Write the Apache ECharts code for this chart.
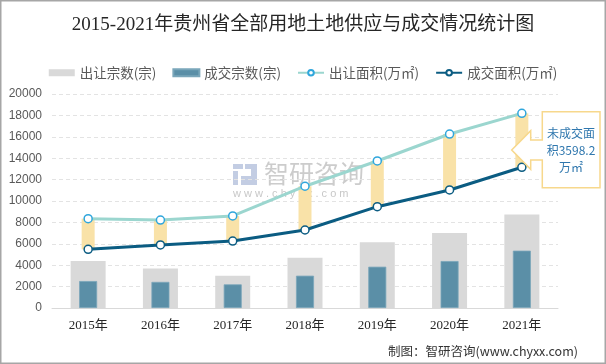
<!DOCTYPE html>
<html>
<head>
<meta charset="utf-8">
<script src="https://cdn.jsdelivr.net/npm/echarts@6/dist/echarts.min.js"></script>
<style>
html,body{margin:0;padding:0;background:#fff;}
#c{width:606px;height:364px;}
</style>
</head>
<body>
<div id="c"></div>
<script>
const years = ['2015年','2016年','2017年','2018年','2019年','2020年','2021年'];
const supplyCount = [4400, 3680, 3020, 4700, 6150, 7010, 8750];     // 出让宗数(宗)
const dealCount   = [2520, 2440, 2210, 3020, 3860, 4390, 5360];     // 成交宗数(宗)
const supplyArea  = [8350, 8220, 8600, 11380, 13740, 16260, 18190]; // 出让面积(万㎡)
const dealArea    = [5480, 5890, 6260, 7290, 9470, 11030, 13150];   // 成交面积(万㎡)
const yTicks = {min: 0, max: 20000, interval: 2000};
const calloutText = '未成交面\n积3598.2\n万㎡';

const bandGap = supplyArea.map((v, i) => v - dealArea[i]);

const chart = echarts.init(document.getElementById('c'));
const catAxis = (show) => ({
  type: 'category', data: years, gridIndex: 0, show: show,
  axisLine: {show: show, lineStyle: {color: '#d9d9d9', width: 1}},
  axisTick: {show: false},
  axisLabel: {show: show, color: '#262626', fontSize: 13, margin: 11,
    fontFamily: "'Liberation Serif','Noto Sans CJK SC',serif"}
});
chart.setOption({
  animation: false,
  backgroundColor: '#fff',
  title: {
    text: '2015-2021年贵州省全部用地土地供应与成交情况统计图',
    left: 'center', top: 11,
    textStyle: {fontSize: 19, fontWeight: 'normal', color: '#262626',
      fontFamily: "'Liberation Serif','Noto Sans CJK SC',serif"}
  },
  legend: {
    top: 61, left: 'center', itemGap: 16, itemWidth: 26, itemHeight: 7,
    textStyle: {color: '#595959', fontSize: 13.5, fontFamily: "'Noto Sans CJK SC',sans-serif"},
    data: [
      {name: '出让宗数(宗)', icon: 'rect'},
      {name: '成交宗数(宗)', icon: 'rect'},
      {name: '出让面积(万㎡)'},
      {name: '成交面积(万㎡)'}
    ]
  },
  grid: {left: 52, right: 48, top: 94, bottom: 56},
  xAxis: [catAxis(true), catAxis(false), catAxis(false)],
  yAxis: {
    type: 'value', min: yTicks.min, max: yTicks.max, interval: yTicks.interval,
    axisLine: {show: false}, axisTick: {show: false},
    axisLabel: {color: '#595959', fontSize: 12, margin: 10, fontFamily: "'Liberation Sans',Arial,sans-serif",
      formatter: (v) => String(v)},
    splitLine: {lineStyle: {color: '#e3e3e3', type: [4, 3], width: 1}}
  },
  graphic: [
    {type: 'rect', shape: {x: 0.75, y: 0.75, width: 604.5, height: 362.5}, silent: true,
      style: {fill: 'none', stroke: '#a6a6a6', lineWidth: 1.5}, z: 100},
    // watermark
    {type: 'group', silent: true, z: 1, children: [
      {type: 'rect', shape: {x: 233, y: 164, width: 10, height: 5}, style: {fill: '#c3cde3'}},
      {type: 'rect', shape: {x: 233, y: 171, width: 5, height: 14}, style: {fill: '#c3cde3'}},
      {type: 'rect', shape: {x: 245, y: 164, width: 12, height: 5}, style: {fill: '#c3cde3'}},
      {type: 'rect', shape: {x: 251, y: 169, width: 6, height: 8}, style: {fill: '#c3cde3'}},
      {type: 'rect', shape: {x: 241, y: 176, width: 16, height: 9}, style: {fill: '#c3cde3'}},
      {type: 'text', left: 264, top: 161, style: {text: '智研咨询', fill: '#cccccc', fontSize: 25,
        fontFamily: "'Noto Sans CJK SC',sans-serif"}},
      {type: 'text', left: 233, top: 188, style: {text: 'w w w . c h y x x . c o m', fill: '#c8c8c8', fontSize: 11,
        fontFamily: "'Liberation Sans',sans-serif"}}
    ]},
    // callout
    {type: 'polygon', silent: true, z: 50,
      shape: {points: [[542.3,111.7],[600,111.7],[600,187.7],[542.3,187.7],[542.3,160],[530.7,160],[530.7,169.3],[511.7,150],[530.7,130.7],[530.7,140],[542.3,140]]},
      style: {fill: '#ffffff', stroke: '#f7d88c', lineWidth: 1.5}},
    {type: 'text', silent: true, z: 51, x: 571, y: 150,
      style: {text: calloutText, fill: '#2f77ae', fontSize: 12, lineHeight: 17, align: 'center', verticalAlign: 'middle',
        fontFamily: "'Noto Sans CJK SC',sans-serif"}},
    // footer
    {type: 'text', silent: true, right: 28, top: 345,
      style: {text: '制图：智研咨询(www.chyxx.com)', fill: '#333333', fontSize: 12.5,
        fontFamily: "'Noto Sans CJK SC',sans-serif"}}
  ],
  series: [
    {name: '出让宗数(宗)', type: 'bar', xAxisIndex: 0, barWidth: 35, data: supplyCount,
      itemStyle: {color: '#d9d9d9'}, z: 2},
    {name: '成交宗数(宗)', type: 'bar', xAxisIndex: 1, barWidth: 18, data: dealCount,
      itemStyle: {color: '#5b8fa7', borderColor: '#7aa6ba', borderWidth: 0.8}, z: 3},
    {name: 'bandBase', type: 'bar', xAxisIndex: 2, stack: 'band', barWidth: 13, data: dealArea,
      itemStyle: {color: 'rgba(0,0,0,0)'}, z: 4, tooltip: {show: false}},
    {name: 'band', type: 'bar', xAxisIndex: 2, stack: 'band', barWidth: 13, data: bandGap,
      itemStyle: {color: '#f9e2a8'}, z: 4},
    {name: '出让面积(万㎡)', type: 'line', xAxisIndex: 0, data: supplyArea, symbol: 'circle', symbolSize: 8,
      lineStyle: {color: '#9bd6cf', width: 3},
      itemStyle: {color: '#ffffff', borderColor: '#2fa6dc', borderWidth: 1.5}, z: 10},
    {name: '成交面积(万㎡)', type: 'line', xAxisIndex: 0, data: dealArea, symbol: 'circle', symbolSize: 8,
      lineStyle: {color: '#0b5c82', width: 3},
      itemStyle: {color: '#ffffff', borderColor: '#0b5c82', borderWidth: 1.5}, z: 10}
  ]
});
</script>
</body>
</html>
